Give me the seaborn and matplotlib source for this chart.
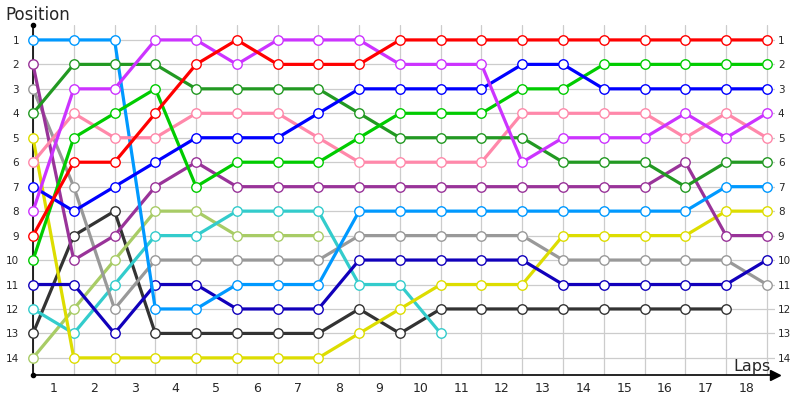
import pandas as pd
import seaborn as sns
import matplotlib.pyplot as plt

# positions per lap (index 0 = start)
red = [9, 6, 6, 4, 2, 1, 2, 2, 2, 1, 1, 1, 1, 1, 1, 1, 1, 1, 1]
light_blue = [1, 1, 1, 12, 12, 11, 11, 11, 8, 8, 8, 8, 8, 8, 8, 8, 8, 7, 7]
violet = [8, 3, 3, 1, 1, 2, 1, 1, 1, 2, 2, 2, 6, 5, 5, 5, 4, 5, 4]
dark_green = [4, 2, 2, 2, 3, 3, 3, 3, 4, 5, 5, 5, 5, 6, 6, 6, 7, 6, 6]
green = [10, 5, 4, 3, 7, 6, 6, 6, 5, 4, 4, 4, 3, 3, 2, 2, 2, 2, 2]
pink = [6, 4, 5, 5, 4, 4, 4, 5, 6, 6, 6, 6, 4, 4, 4, 4, 5, 4, 5]
blue = [7, 8, 7, 6, 5, 5, 5, 4, 3, 3, 3, 3, 2, 2, 3, 3, 3, 3, 3]
purple = [2, 10, 9, 7, 6, 7, 7, 7, 7, 7, 7, 7, 7, 7, 7, 7, 6, 9, 9]
gray = [3, 7, 12, 10, 10, 10, 10, 10, 9, 9, 9, 9, 9, 10, 10, 10, 10, 10, 11]
yellow = [5, 14, 14, 14, 14, 14, 14, 14, 13, 12, 11, 11, 11, 9, 9, 9, 9, 8, 8]
black = [13, 9, 8, 13, 13, 13, 13, 13, 12, 13, 12, 12, 12, 12, 12, 12, 12, 12]
olive = [14, 12, 10, 8, 8, 9, 9, 9]
teal = [12, 13, 11, 9, 9, 8, 8, 8, 11, 11, 13]
navy = [11, 11, 13, 11, 11, 12, 12, 12, 10, 10, 10, 10, 10, 11, 11, 11, 11, 11, 10]

lap_labels = [str(i) for i in range(1, 19)]
positions = list(range(1, 15))

series = [
    (black, '#333333'), (olive, '#A8CC66'), (teal, '#33CCCC'), (gray, '#999999'),
    (yellow, '#DDDD00'), (navy, '#1100BB'), (purple, '#993399'), (light_blue, '#0099FF'),
    (pink, '#FF88AA'), (dark_green, '#229922'), (green, '#00CC00'), (blue, '#0000FF'),
    (violet, '#CC33FF'), (red, '#FF0000'),
]

sns.set_style('white')
plt.rcParams['font.family'] = ['DejaVu Sans']

fig = plt.figure(figsize=(8, 4), dpi=100)
ax = fig.add_axes([33 / 800, 25 / 400, 742 / 800, 350 / 400])

for vals, c in series:
    df = pd.DataFrame({'lap': range(len(vals)), 'pos': vals})
    sns.lineplot(data=df, x='lap', y='pos', ax=ax, color=c, lw=2.3,
                 marker='o', markersize=6.8, markerfacecolor='white',
                 markeredgecolor=c, markeredgewidth=1.0, errorbar=None,
                 clip_on=False, zorder=3)

ax.set_xlim(0, 18.2)
ax.set_ylim(14.7, 0.39)

ax.set_xticks(range(19))
ax.set_xticklabels([])
ax.set_xticks([i - 0.5 for i in range(1, 19)], minor=True)
ax.set_xticklabels(lap_labels, minor=True, fontsize=9)
ax.set_yticks(positions)
ax.set_yticklabels([str(p) for p in positions], fontsize=7.5)

ax.tick_params(axis='x', which='both', length=0, pad=5)
ax.tick_params(axis='y', length=0, pad=10)

# labels on the right side, close to the last lap
ax2 = ax.twinx()
ax2.set_ylim(ax.get_ylim())
ax2.set_yticks(positions)
ax2.set_yticklabels([str(p) for p in positions], fontsize=7.5)
ax2.tick_params(axis='y', length=0, pad=2)
for s in ax2.spines.values():
    s.set_visible(False)

ax.grid(True, which='major', color='#CCCCCC', lw=0.9, zorder=0)
ax.set_axisbelow(True)
ax.set_xlabel('')
ax.set_ylabel('')

for s in ['top', 'right']:
    ax.spines[s].set_visible(False)
for s in ['left', 'bottom']:
    ax.spines[s].set_color('black')
    ax.spines[s].set_linewidth(1.2)

ax.plot([1.0], [0], marker='>', ms=7, color='black', transform=ax.transAxes, clip_on=False)
ax.plot([0], [1.0], marker='o', ms=3, color='black', transform=ax.transAxes, clip_on=False)
ax.plot([0], [0], marker='o', ms=3, color='black', transform=ax.transAxes, clip_on=False)

fig.text(5 / 800, 1 - 15 / 400, 'Position', fontsize=12, va='center', ha='left')
fig.text(771 / 800, 1 - 366 / 400, 'Laps', fontsize=11.5, va='center', ha='right')

fig.savefig('out.png', dpi=100)
